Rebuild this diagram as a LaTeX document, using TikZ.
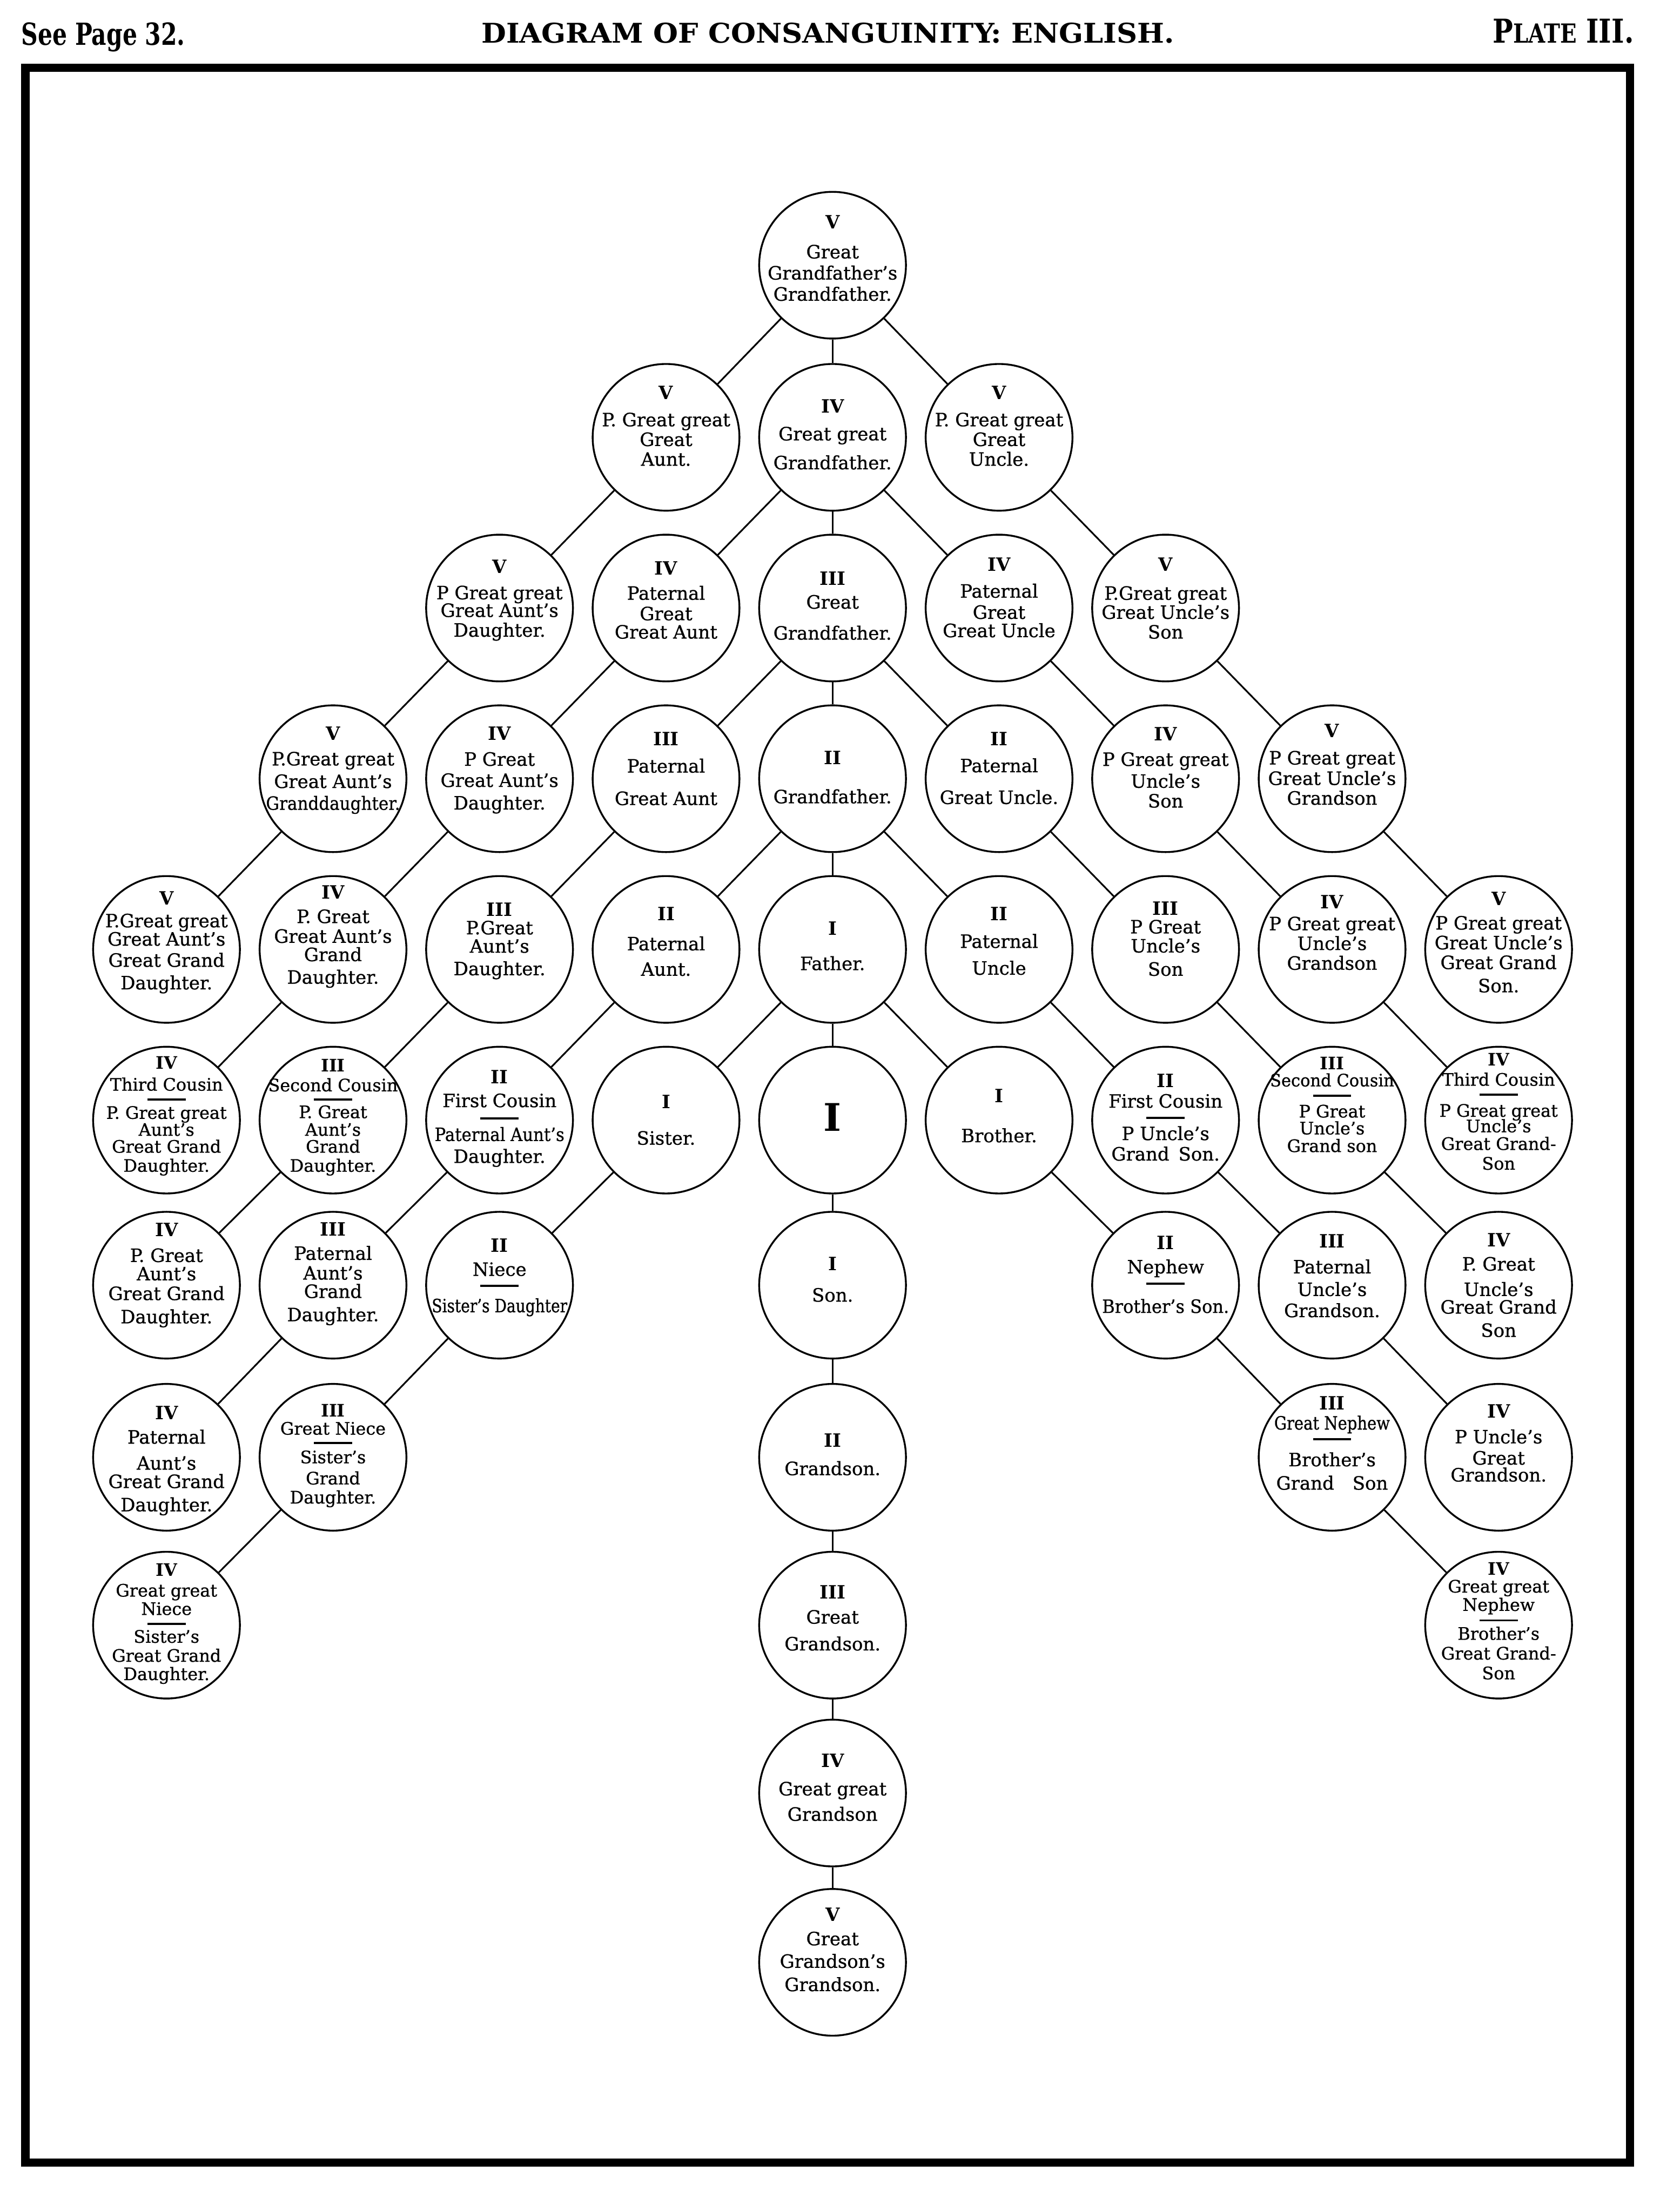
\documentclass[tikz,border=0pt]{standalone}
\usepackage{fontspec}
\setmainfont{DejaVu Serif}[UprightFeatures={FakeBold=0.8}]
\usepackage{graphicx}
\newsavebox\fitbox
\newcommand\F[2]{\sbox\fitbox{#2}\ifdim\wd\fitbox>#1pt\relax\resizebox{#1pt}{\ht\fitbox}{\usebox\fitbox}\else\usebox\fitbox\fi}
\newcommand\nm[1]{{\bfseries #1}}
\newcommand\Rl{\rule[3pt]{27pt}{1.5pt}}
\newcommand\Kn[6][kt]{\node[kin] (#2) at (#3,#4) {};\node[#1] (#2-t) at ([yshift=#5pt]#2.center) {#6};}
\begin{document}
\begin{tikzpicture}[x=1pt,y=-1pt,
 kin/.style={circle,draw,line width=1.3pt,minimum size=104pt,inner sep=0pt},
 kt/.style={align=center,inner sep=0pt,font=\fontsize{13}{15}\selectfont},
 kts/.style={align=center,inner sep=0pt,font=\fontsize{12.2}{12.5}\selectfont},
 link/.style={line width=1.2pt},
 hdr/.style={inner sep=0pt}]
\useasboundingbox (0,0) rectangle (1176,1568);
\draw[line width=5.8pt] (18,48.2) rectangle (1155,1533);
% header
\node[hdr, anchor=base west] (seepage) at (15,32) {\resizebox{116pt}{16pt}{\bfseries See Page 32.}};
\node[hdr, anchor=base west] (title) at (341,30.6) {\resizebox{491pt}{14.3pt}{\bfseries DIAGRAM OF CONSANGUINITY: ENGLISH.}};
\node[hdr, anchor=base east] (plate) at (1158,30.6) {\resizebox{100pt}{17pt}{\bfseries P{\footnotesize LATE} III.}};
% row 0
\Kn{n5-0}{590}{188}{5}{\nm{V}\\[6pt]Great\\Grandfather's\\Grandfather.}
% row 1
\Kn{n4-1}{472}{310}{8}{\nm{V}\\[4pt]P. Great great\\[-1pt]Great\\[-1pt]Aunt.}
\Kn{n5-1}{590}{310}{2}{\nm{IV}\\[4.5pt]Great great\\[5.5pt]Grandfather.}
\Kn{n6-1}{708}{310}{8}{\nm{V}\\[4pt]P. Great great\\[-1pt]Great\\[-1pt]Uncle.}
% row 2
\Kn{n3-2}{354}{431}{5.5}{\nm{V}\\[3.5pt]P Great great\\[-2.5pt]Great Aunt's\\[-1pt]Daughter.}
\Kn{n4-2}{472}{431}{5.5}{\nm{IV}\\[2.5pt]Paternal\\[-0.5pt]Great\\[-2pt]Great Aunt}
\Kn{n5-2}{590}{431}{1.5}{\nm{III}\\[1.5pt]Great\\[7pt]Grandfather.}
\Kn{n6-2}{708}{431}{7.5}{\nm{IV}\\[4pt]Paternal\\Great\\[-2pt]Great Uncle}
\Kn{n7-2}{826}{431}{7}{\nm{V}\\[5.5pt]P.Great great\\[-1.5pt]Great Uncle's\\[-1pt]Son}
% row 3
\Kn{n2-3}{236}{552}{6}{\nm{V}\\[3pt]P.Great great\\[1pt]Great Aunt's\\[0.5pt]\F{95}{Granddaughter.}}
\Kn{n3-3}{354}{552}{6}{\nm{IV}\\[3pt]P Great\\Great Aunt's\\[1pt]Daughter.}
\Kn{n4-3}{472}{552}{7}{\nm{III}\\[4pt]Paternal\\[8pt]Great Aunt}
\Kn{n5-3}{590}{552}{1}{\nm{II}\\[12.5pt]Grandfather.}
\Kn{n6-3}{708}{552}{7.5}{\nm{II}\\[4pt]Paternal\\[7.5pt]Great Uncle.}
\Kn{n7-3}{826}{552}{8}{\nm{IV}\\[3pt]P Great great\\[0.5pt]Uncle's\\[-1pt]Son}
\Kn{n8-3}{944}{552}{10}{\nm{V}\\[4pt]P Great great\\[-0.5pt]Great Uncle's\\[-1pt]Grandson}
% row 4
\Kn{n1-4}{118}{673}{5}{\nm{V}\\[1pt]P.Great great\\[-2pt]Great Aunt's\\Great Grand\\[1pt]Daughter.}
\Kn{n2-4}{236}{673}{9}{\nm{IV}\\[2pt]P. Great\\[-1pt]Great Aunt's\\[-2pt]Grand\\[1pt]Daughter.}
\Kn{n3-4}{354}{673}{6}{\nm{III}\\[-2pt]P.Great\\[-2pt]Aunt's\\[1pt]Daughter.}
\Kn{n4-4}{472}{673}{5.5}{\nm{II}\\[6pt]Paternal\\[3pt]Aunt.}
\Kn{n5-4}{590}{673}{2.5}{\nm{I}\\[10pt]Father.}
\Kn{n6-4}{708}{673}{6}{\nm{II}\\[4.5pt]Paternal\\[4pt]Uncle}
\Kn{n7-4}{826}{673}{7.5}{\nm{III}\\[-2pt]P Great\\[-1.5pt]Uncle's\\[1.5pt]Son}
\Kn{n8-4}{944}{673}{12}{\nm{IV}\\[0.5pt]P Great great\\[-1pt]Uncle's\\[-1pt]Grandson}
\Kn{n9-4}{1062}{673}{5}{\nm{V}\\[2pt]P Great great\\[-1pt]Great Uncle's\\[-1pt]Great Grand\\[1.5pt]Son.}
% row 5
\Kn[kts]{n1-5}{118}{794}{3}{\nm{IV}\\[3pt]Third Cousin\\[-2.5pt]\Rl\\[-2.5pt]P. Great great\\[-0.5pt]Aunt's\\[-0.5pt]Great Grand\\[1pt]Daughter.}
\Kn[kts]{n2-5}{236}{794}{2}{\nm{III}\\[1.5pt]Second Cousin\\[-3pt]\Rl\\[-3pt]P. Great\\Aunt's\\[-0.5pt]Grand\\[1pt]Daughter.}
\Kn{n3-5}{354}{794}{1}{\nm{II}\\[1.5pt]First Cousin\\[-3.3pt]\Rl\\[-2.7pt]\F{92}{Paternal Aunt's}\\[0.5pt]Daughter.}
\Kn{n4-5}{472}{794}{0}{\nm{I}\\[10.5pt]Sister.}
\Kn{n5-5}{590}{794}{2}{\fontsize{27}{27}\selectfont\bfseries I}
\Kn{n6-5}{708}{794}{3}{\nm{I}\\[13pt]Brother.}
\Kn{n7-5}{826}{794}{2}{\nm{II}\\[-0.5pt]First Cousin\\[-4.1pt]\Rl\\[-2.9pt]P Uncle's\\[-0.5pt]Grand\enspace Son.}
\Kn[kts]{n8-5}{944}{794}{11}{\nm{III}\\[-0.5pt]\F{88}{Second Cousin}\\[-2.3pt]\Rl\\[-0.7pt]P Great\\[-0.5pt]Uncle's\\Grand son}
\Kn[kts]{n9-5}{1062}{794}{6}{\nm{IV}\\[1.5pt]Third Cousin\\[-2.5pt]\Rl\\[-0.5pt]P Great great\\[-1.5pt]Uncle's\\Great Grand-\\[1.5pt]Son}
% row 6
\Kn{n1-6}{118}{911}{7}{\nm{IV}\\[3pt]P. Great\\[-2pt]Aunt's\\[-1pt]Great Grand\\[1.5pt]Daughter.}
\Kn{n2-6}{236}{911}{8}{\nm{III}\\[2pt]Paternal\\[-1pt]Aunt's\\[-2pt]Grand\\[1.5pt]Daughter.}
\Kn{n3-6}{354}{911}{5.5}{\nm{II}\\[2pt]Niece\\[-4.2pt]\Rl\\[0pt]\F{96}{Sister's Daughter}}
\Kn{n5-6}{590}{911}{4}{\nm{I}\\[7pt]Son.}
\Kn{n7-6}{826}{911}{7.5}{\nm{II}\\[2pt]Nephew\\[-4pt]\Rl\\[2pt]\F{90}{Brother's Son.}}
\Kn{n8-6}{944}{911}{6.5}{\nm{III}\\[3pt]Paternal\\[1pt]Uncle's\\Grandson.}
\Kn{n9-6}{1062}{911}{0}{\nm{IV}\\[2pt]P. Great\\[3pt]Uncle's\\[-2.5pt]Great Grand\\[1.5pt]Son}
% row 7
\Kn{n1-7}{118}{1033}{-2.5}{\nm{IV}\\[2pt]Paternal\\[3.5pt]Aunt's\\[-2pt]Great Grand\\[1.5pt]Daughter.}
\Kn[kts]{n2-7}{236}{1033}{1}{\nm{III}\\Great Niece\\[-3pt]\Rl\\[-1.7pt]Sister's\\[2.5pt]Grand\\[1pt]Daughter.}
\Kn{n5-7}{590}{1033}{2}{\nm{II}\\[5pt]Grandson.}
\Kn{n8-7}{944}{1033}{10}{\nm{III}\\[-1pt]\F{82}{Great Nephew}\\[-4.3pt]\Rl\\[0.3pt]Brother's\\[1.6pt]Grand\quad Son}
\Kn{n9-7}{1062}{1033}{10}{\nm{IV}\\[3pt]P Uncle's\\Great\\[-3pt]Grandson.}
% row 8
\Kn[kts]{n1-8}{118}{1152}{1}{\nm{IV}\\[2pt]Great great\\[0.5pt]Niece\\[-2.3pt]\Rl\\[-3pt]Sister's\\[1pt]Great Grand\\[0.5pt]Daughter.}
\Kn{n5-8}{590}{1152}{5}{\nm{III}\\[2.5pt]Great\\[4pt]Grandson.}
\Kn[kts]{n9-8}{1062}{1152}{3}{\nm{IV}\\Great great\\[0.5pt]Nephew\\[-2pt]\Rl\\[-2.5pt]Brother's\\[1.5pt]Great Grand-\\[1.5pt]Son}
% rows 9, 10
\Kn{n5-9}{590}{1271}{4}{\nm{IV}\\[5pt]Great great\\[3pt]Grandson}
\Kn{n5-10}{590}{1391}{9}{\nm{V}\\[2pt]Great\\[1pt]Grandson's\\[1.5pt]Grandson.}
% connectors
\foreach \a/\b in {n5-0/n4-1, n5-0/n5-1, n5-0/n6-1,
  n5-1/n4-2, n5-1/n5-2, n5-1/n6-2, n4-1/n3-2, n6-1/n7-2,
  n5-2/n4-3, n5-2/n5-3, n5-2/n6-3, n4-2/n3-3, n6-2/n7-3, n3-2/n2-3, n7-2/n8-3,
  n5-3/n4-4, n5-3/n5-4, n5-3/n6-4, n4-3/n3-4, n6-3/n7-4, n3-3/n2-4, n7-3/n8-4, n2-3/n1-4, n8-3/n9-4,
  n5-4/n4-5, n5-4/n5-5, n5-4/n6-5, n4-4/n3-5, n6-4/n7-5, n3-4/n2-5, n7-4/n8-5, n2-4/n1-5, n8-4/n9-5,
  n4-5/n3-6, n6-5/n7-6, n3-5/n2-6, n7-5/n8-6, n2-5/n1-6, n8-5/n9-6,
  n5-5/n5-6, n5-6/n5-7, n5-7/n5-8, n5-8/n5-9, n5-9/n5-10,
  n3-6/n2-7, n7-6/n8-7, n2-6/n1-7, n8-6/n9-7,
  n2-7/n1-8, n8-7/n9-8}
  \draw[link] (\a) -- (\b);
\end{tikzpicture}
\end{document}
